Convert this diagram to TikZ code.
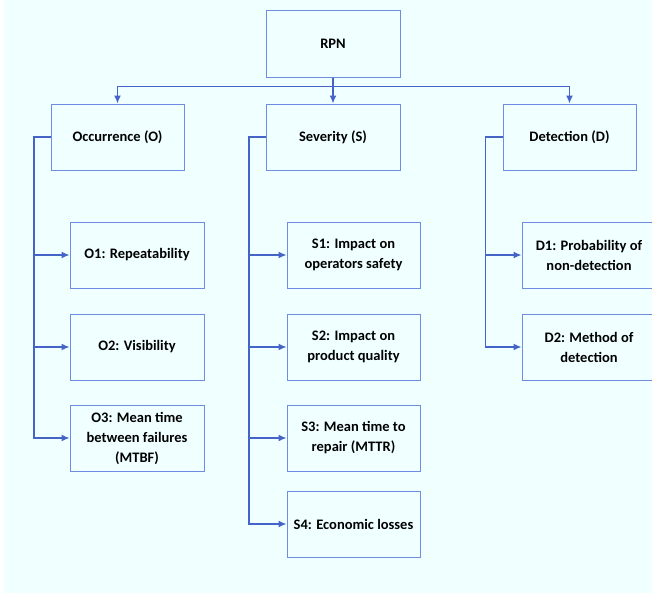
\documentclass[tikz,border=0pt]{standalone}
\usepackage{fontspec}
\setmainfont{Carlito}
\usepackage{xcolor}
\usetikzlibrary{arrows.meta}
\definecolor{bgblue}{RGB}{240,255,255}
\definecolor{boxline}{RGB}{110,140,225}
\definecolor{linkline}{RGB}{68,100,200}

\begin{document}
\begin{tikzpicture}[x=1pt, y=-1pt,
		block/.style={draw=boxline, line width=1pt, minimum height=66pt, align=center,
			font=\bfseries\fontsize{14.5}{20}\selectfont},
		link/.style={draw=linkline, line width=1.3pt, -{Latex[length=8pt,width=7pt]}},
	]
		\useasboundingbox (0,0) rectangle (652,594);
		\fill[bgblue] (4,0) rectangle (652,593);

		\node[block, minimum width=134pt] (rpn) at (333,44) {RPN};
		\node[block, minimum width=133pt] (occ) at (117.5,137) {Occurrence (O)};
		\node[block, minimum width=134pt] (sev) at (333,137) {Severity (S)};
		\node[block, minimum width=133pt] (det) at (569.5,137) {Detection (D)};

		\node[block, minimum width=134pt] (o1) at (137,255) {O1: Repeatability};
		\node[block, minimum width=134pt] (o2) at (137,347) {O2: Visibility};
		\node[block, minimum width=134pt] (o3) at (137,438) {O3: Mean time\\between failures\\(MTBF)};

		\node[block, minimum width=133pt] (s1) at (353.5,255) {S1: Impact on\\operators safety};
		\node[block, minimum width=133pt] (s2) at (353.5,347) {S2: Impact on\\product quality};
		\node[block, minimum width=133pt] (s3) at (353.5,438) {S3: Mean time to\\repair (MTTR)};
		\node[block, minimum width=133pt] (s4) at (353.5,524) {S4: Economic losses};

		\node[block, minimum width=134pt] (d1) at (589,255) {D1: Probability of\\non-detection};
		\node[block, minimum width=134pt] (d2) at (589,347) {D2: Method of\\detection};

		\draw[link] (rpn.south) -- ++(0,9) -| (occ.north);
		\draw[link] (rpn.south) -- (sev.north);
		\draw[link] (rpn.south) -- ++(0,9) -| (det.north);

		\foreach \k in {o1,o2,o3}
			\draw[link] (occ.west) -- ++(-16.5,0) |- (\k.west);
		\foreach \k in {s1,s2,s3,s4}
			\draw[link] (sev.west) -- ++(-16.5,0) |- (\k.west);
		\foreach \k in {d1,d2}
			\draw[link] (det.west) -- ++(-17,0) |- (\k.west);
	\end{tikzpicture}
\end{document}
